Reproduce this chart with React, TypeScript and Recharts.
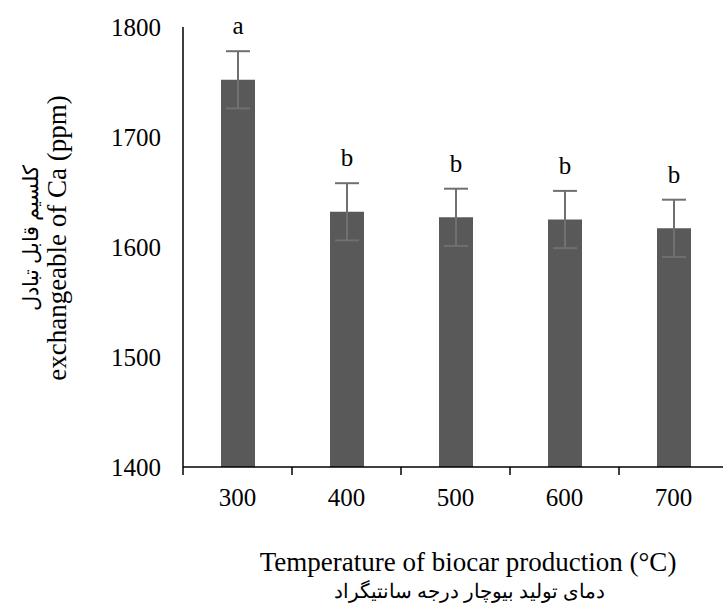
import { BarChart, Bar, XAxis, YAxis, ErrorBar, LabelList } from 'recharts'

// exchangeable Ca by pyrolysis temperature, mean ± SE with Duncan letters
const temps = ['300', '400', '500', '600', '700']
const caMean = [1752, 1632, 1627, 1625, 1617]
const caErr = [26, 26, 26, 26, 26]
const letters = ['a', 'b', 'b', 'b', 'b']
const yTicks = [1400, 1500, 1600, 1700, 1800]

const data = temps.map((t, i) => ({ temp: t, ca: caMean[i], err: caErr[i], grp: letters[i] }))

const FONT = '"Liberation Serif", "Times New Roman", serif'
const W = 740
const H = 605
const Y_AXIS_W = 80
const X_AXIS_H = 30
const M = { top: 27, right: 12, left: 183 - Y_AXIS_W, bottom: 138 - X_AXIS_H }
const PLOT_W = W - 183 - M.right
const PLOT_H = H - M.top - 138
const BAND = PLOT_W / temps.length
const PX_PER_UNIT = PLOT_H / (yTicks[yTicks.length - 1] - yTicks[0])

function XTick(props: any) {
  const { x, y, payload } = props
  return (
    <g>
      <line x1={x - BAND / 2} x2={x - BAND / 2} y1={y - 8} y2={y} stroke="#000" strokeWidth={1.5} />
      <text x={x} y={y + 31} textAnchor="middle" fontFamily={FONT} fontSize={25} fill="#000">{payload.value}</text>
    </g>
  )
}

function GroupLabel(props: any) {
  const { x, y, width, index } = props
  const capY = y - caErr[index] * PX_PER_UNIT
  return (
    <text x={x + width / 2} y={capY - 17} textAnchor="middle" fontFamily={FONT} fontSize={25} fill="#000">{letters[index]}</text>
  )
}

export default function App() {
  return (
    <div style={{ position: 'absolute', left: 0, top: 0, width: 723, height: 605, overflow: 'hidden', background: '#fff' }}>
      <BarChart width={W} height={H} data={data} margin={M}>
        <XAxis dataKey="temp" height={X_AXIS_H} axisLine={{ stroke: '#000', strokeWidth: 1.5 }} tickLine={false} tick={<XTick />} interval={0} />
        <YAxis width={Y_AXIS_W} domain={[1400, 1800]} ticks={yTicks} axisLine={{ stroke: '#000', strokeWidth: 1.5 }} tickLine={false}
          tick={{ fontFamily: FONT, fontSize: 25, fill: '#000' }} tickMargin={16} />
        <Bar dataKey="ca" fill="#595959" barSize={34} isAnimationActive={false}>
          <ErrorBar dataKey="err" width={12} stroke="#707070" strokeWidth={2} direction="y" />
          <LabelList dataKey="grp" content={<GroupLabel />} />
        </Bar>
      </BarChart>
      <div style={{ position: 'absolute', left: 0, top: 0 }}>
        <svg width={723} height={605} style={{ display: 'block' }}>
          <text x={0} y={0} transform="translate(66 238) rotate(-90)" textAnchor="middle" fontFamily={FONT} fontSize={27} fill="#000">exchangeable of Ca (ppm)</text>
          <text x={0} y={0} transform="translate(38 238) rotate(-90)" textAnchor="middle" fontFamily={FONT} fontSize={21} fill="#000">کلسیم قابل تبادل</text>
          <text x={468} y={571} textAnchor="middle" fontFamily={FONT} fontSize={27} fill="#000">Temperature of biocar production (°C)</text>
          <text x={469} y={598} textAnchor="middle" fontFamily={FONT} fontSize={20} fill="#000">دمای تولید بیوچار درجه سانتیگراد</text>
        </svg>
      </div>
    </div>
  )
}
